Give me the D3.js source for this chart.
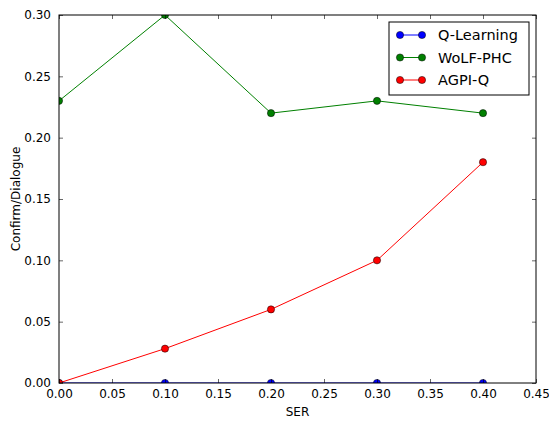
<!DOCTYPE html>
<html>
<head>
<meta charset="utf-8">
<script src="https://cdn.jsdelivr.net/npm/d3@7"></script>
<style>
  body { margin: 0; background: #fff; }
  text { font-family: "DejaVu Sans", sans-serif; }
</style>
</head>
<body>
<div id="chart"></div>
<script>
const serValues = [0.0, 0.1, 0.2, 0.3, 0.4];
const seriesNames = ["Q-Learning", "WoLF-PHC", "AGPI-Q"];
const qLearning = [0, 0, 0, 0, 0];
const wolfPhc = [0.23, 0.30, 0.22, 0.23, 0.22];
const agpiQ = [0, 0.028, 0.06, 0.10, 0.18];
const xTicks = [0, 0.05, 0.1, 0.15, 0.2, 0.25, 0.3, 0.35, 0.4, 0.45];
const yTicks = [0, 0.05, 0.1, 0.15, 0.2, 0.25, 0.3];

const colors = ["#0000ff", "#008000", "#ff0000"];
const series = [qLearning, wolfPhc, agpiQ];

const width = 549, height = 422;
const margin = {left: 59, right: 13, top: 15, bottom: 39};

const svg = d3.select("#chart").append("svg")
    .attr("width", width)
    .attr("height", height);

const x = d3.scaleLinear().domain([0, 0.45]).range([margin.left, width - margin.right]);
const y = d3.scaleLinear().domain([0, 0.30]).range([height - margin.bottom, margin.top]);

svg.append("defs").append("clipPath")
    .attr("id", "plotclip")
  .append("rect")
    .attr("x", margin.left)
    .attr("y", margin.top)
    .attr("width", x.range()[1] - x.range()[0])
    .attr("height", y.range()[0] - y.range()[1]);

const plot = svg.append("g").attr("clip-path", "url(#plotclip)");

const line = d3.line()
    .x((d, i) => x(serValues[i]))
    .y(d => y(d));

series.forEach((vals, k) => {
  plot.append("path")
    .datum(vals)
    .attr("fill", "none")
    .attr("stroke", colors[k])
    .attr("stroke-width", 1)
    .attr("d", line);
  plot.selectAll(null)
    .data(vals)
    .join("circle")
    .attr("cx", (d, i) => x(serValues[i]))
    .attr("cy", d => y(d))
    .attr("r", 3.6)
    .attr("fill", colors[k])
    .attr("stroke", "#000")
    .attr("stroke-width", 0.5);
});

// axes: ticks inside, mirrored on top/right
const fmt = d3.format(".2f");
const axisB = svg.append("g")
    .attr("transform", `translate(0,${y(0)})`)
    .call(d3.axisBottom(x).tickValues(xTicks).tickFormat(fmt).tickSizeInner(-4).tickSizeOuter(0).tickPadding(8));
const axisT = svg.append("g")
    .attr("transform", `translate(0,${y(0.30)})`)
    .call(d3.axisTop(x).tickValues(xTicks).tickFormat("").tickSizeInner(-4).tickSizeOuter(0));
const axisL = svg.append("g")
    .attr("transform", `translate(${x(0)},0)`)
    .call(d3.axisLeft(y).tickValues(yTicks).tickFormat(fmt).tickSizeInner(-4).tickSizeOuter(0).tickPadding(8));
const axisR = svg.append("g")
    .attr("transform", `translate(${x(0.45)},0)`)
    .call(d3.axisRight(y).tickValues(yTicks).tickFormat("").tickSizeInner(-4).tickSizeOuter(0));

[axisB, axisT, axisL, axisR].forEach(a => {
  a.select(".domain").remove();
  a.selectAll("line").attr("stroke", "#000").attr("stroke-width", 0.6);
  a.selectAll("text").attr("font-size", 12).attr("fill", "#000").attr("font-family", "DejaVu Sans, sans-serif");
});
axisB.selectAll("text").attr("dy", "0.71em").attr("y", 6);

svg.append("rect")
    .attr("x", x(0))
    .attr("y", y(0.30))
    .attr("width", x(0.45) - x(0))
    .attr("height", y(0) - y(0.30))
    .attr("fill", "none")
    .attr("stroke", "#000")
    .attr("stroke-width", 1);

svg.append("text")
    .attr("x", (x(0) + x(0.45)) / 2)
    .attr("y", 416)
    .attr("text-anchor", "middle")
    .attr("font-size", 12)
    .text("SER");

svg.append("text")
    .attr("transform", `translate(20,${(y(0) + y(0.30)) / 2}) rotate(-90)`)
    .attr("text-anchor", "middle")
    .attr("font-size", 12)
    .text("Confirm/Dialogue");

// legend
const legend = svg.append("g").attr("transform", "translate(389,22)");
legend.append("rect")
    .attr("width", 140)
    .attr("height", 73)
    .attr("fill", "#fff")
    .attr("stroke", "#000")
    .attr("stroke-width", 1);

const items = legend.selectAll("g.item")
    .data(seriesNames)
    .join("g")
    .attr("class", "item")
    .attr("transform", (d, i) => `translate(0,${13 + i * 22.5})`);

items.append("line")
    .attr("x1", 11).attr("x2", 33)
    .attr("stroke", (d, i) => colors[i])
    .attr("stroke-width", 1);
items.selectAll("circle")
    .data((d, i) => [i, i])
    .join("circle")
    .attr("cx", (d, j) => j === 0 ? 11 : 33)
    .attr("r", 3.6)
    .attr("fill", d => colors[d])
    .attr("stroke", "#000")
    .attr("stroke-width", 0.5);
items.append("text")
    .attr("x", 49)
    .attr("dy", "0.35em")
    .attr("font-size", 14.5)
    .text(d => d);
</script>
</body>
</html>
